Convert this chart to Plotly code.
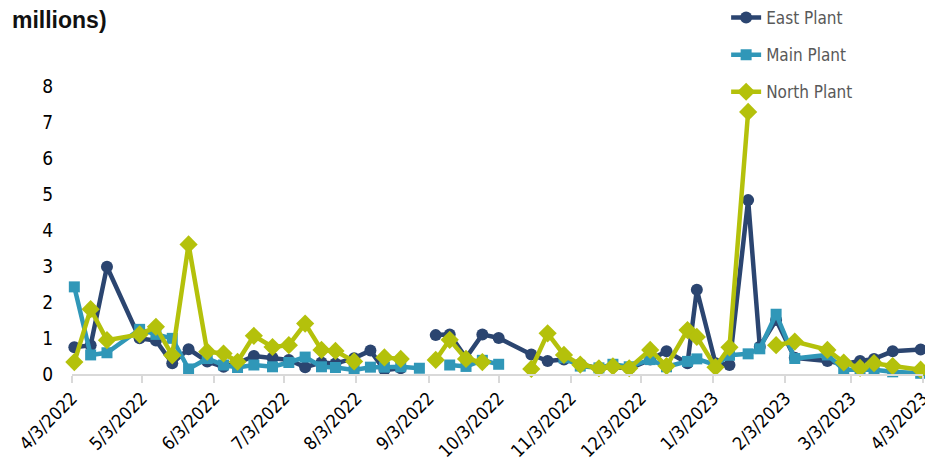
import plotly.graph_objects as go

dates = [
    "2022-04-04", "2022-04-11", "2022-04-18", "2022-05-02", "2022-05-09", "2022-05-16",
    "2022-05-23", "2022-05-31", "2022-06-07", "2022-06-13", "2022-06-20", "2022-06-28",
    "2022-07-05", "2022-07-12", "2022-07-19", "2022-07-25", "2022-08-02", "2022-08-09",
    "2022-08-15", "2022-08-22", "2022-08-30", "2022-09-06", "2022-09-12", "2022-09-19",
    "2022-09-26", "2022-10-03", "2022-10-17", "2022-10-24", "2022-10-31", "2022-11-07",
    "2022-11-15", "2022-11-21", "2022-11-28", "2022-12-07", "2022-12-14", "2022-12-23",
    "2022-12-27", "2023-01-04", "2023-01-10", "2023-01-18", "2023-01-23", "2023-01-30",
    "2023-02-07", "2023-02-21", "2023-02-28", "2023-03-07", "2023-03-13", "2023-03-21",
    "2023-04-02",
]

east_plant = [
    0.74, 0.80, 2.98, 0.99, 0.93, 0.30, 0.69, 0.35, 0.20, 0.30, 0.50, 0.45,
    0.39, 0.19, 0.32, 0.29, 0.44, 0.65, 0.11, 0.16, None, 1.08, 1.10, 0.45,
    1.10, 1.00, 0.54, 0.36, 0.40, 0.28, 0.15, 0.20, 0.15, 0.40, 0.63, 0.30,
    2.34, 0.30, 0.25, 4.83, 0.76, 1.50, 0.45, 0.36, 0.28, 0.36, 0.42, 0.63,
    0.68,
]

main_plant = [
    2.42, 0.53, 0.59, 1.24, 1.10, 0.99, 0.14, 0.43, 0.25, 0.18, 0.25, 0.20,
    0.32, 0.47, 0.20, 0.18, 0.11, 0.19, 0.19, 0.20, 0.16, None, 0.25, 0.21,
    0.38, 0.27, None, None, 0.45, 0.22, 0.17, 0.27, 0.20, 0.40, 0.20, 0.35,
    0.42, 0.25, 0.52, 0.56, 0.70, 1.66, 0.43, 0.53, 0.12, 0.12, 0.12, 0.06,
    0.02,
]

north_plant = [
    0.33, 1.80, 0.94, 1.10, 1.31, 0.52, 3.60, 0.62, 0.57, 0.34, 1.06, 0.75,
    0.80, 1.40, 0.67, 0.64, 0.35, None, 0.46, 0.42, None, 0.39, 0.95, 0.42,
    0.33, None, 0.14, 1.13, 0.53, 0.26, 0.16, 0.21, 0.16, 0.67, 0.22, 1.22,
    1.03, 0.19, 0.74, 7.28, None, 0.80, 0.90, 0.67, 0.32, 0.17, 0.30, 0.22,
    0.12,
]

y_ticks = [0, 1, 2, 3, 4, 5, 6, 7, 8]

series = [
    ("East Plant", east_plant, "#2b4570", "circle", 12),
    ("Main Plant", main_plant, "#3097b8", "square", 11),
    ("North Plant", north_plant, "#b4c10b", "diamond", 14),
]

FONT = "DejaVu Sans Condensed, Liberation Sans Narrow, sans-serif"

fig = go.Figure()
for name, vals, color, sym, size in series:
    fig.add_trace(go.Scatter(
        x=dates, y=vals, name=name, mode="lines+markers",
        line=dict(color=color, width=4.5),
        marker=dict(symbol=sym, size=size, color=color),
        connectgaps=False, cliponaxis=False, legendgroup=name,
    ))

fig.update_layout(
    width=925, height=465,
    margin=dict(l=72, r=2, t=86, b=91, autoexpand=False),
    paper_bgcolor="white", plot_bgcolor="white",
    showlegend=True,
    legend=dict(
        xref="container", yref="container", x=0.785, y=1.02,
        xanchor="left", yanchor="top",
        font=dict(family=FONT, size=17, color="#595959"),
        tracegroupgap=12, bgcolor="rgba(0,0,0,0)",
    ),
    annotations=[dict(
        text="<b>millions)</b>", xref="paper", yref="paper",
        x=-0.073, y=1.0, xanchor="left", yanchor="middle", yshift=66,
        showarrow=False,
        font=dict(family="Liberation Sans, Arial, sans-serif", size=23, color="#111111"),
    )],
)

fig.update_xaxes(
    type="date", range=["2022-04-03", "2023-04-03"],
    tick0="2022-04-03", dtick="M1", tickformat="%-m/%-d/%Y",
    tickangle=-45, ticks="outside", ticklen=7, tickcolor="#d9d9d9", tickwidth=1.5,
    showline=True, linecolor="#d9d9d9", linewidth=1.5, showgrid=False, zeroline=False,
    ticklabeloverflow="allow", ticklabelstandoff=-2,
    tickfont=dict(family=FONT, size=18, color="#000000"),
)
fig.update_yaxes(
    range=[0, 8], tickvals=y_ticks, showgrid=False, zeroline=False, showline=False,
    ticks="", ticklabelstandoff=18,
    tickfont=dict(family=FONT, size=19, color="#000000"),
)

fig.write_html(
    "out.html",
    config={"displayModeBar": False},
    post_script="document.body.style.margin='0px';document.body.style.padding='0px';",
)
